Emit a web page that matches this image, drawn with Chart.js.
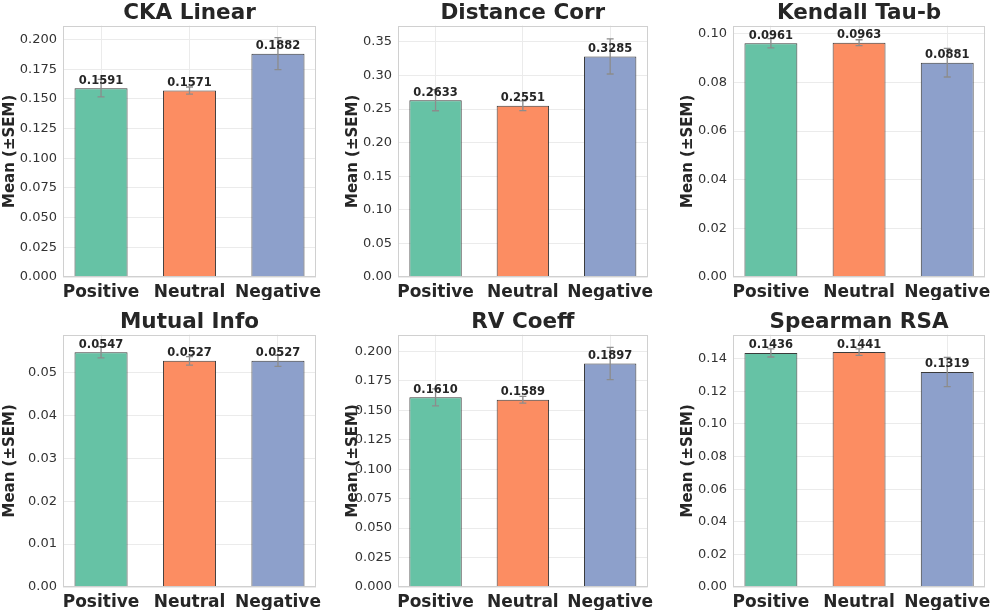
<!DOCTYPE html>
<html><head><meta charset="utf-8">
<script src="https://cdn.jsdelivr.net/npm/chart.js@4.4.1/dist/chart.umd.min.js"></script>
<style>
html,body{margin:0;padding:0;background:#fff;}
#wrap{position:relative;width:997px;height:613px;overflow:hidden;background:#fff}
canvas{position:absolute;display:block}
</style></head><body><div id="wrap"></div>
<script>
// ---------- data ----------
const categories = ['Positive', 'Neutral', 'Negative'];
const titles = ['CKA Linear', 'Distance Corr', 'Kendall Tau-b', 'Mutual Info', 'RV Coeff', 'Spearman RSA'];
const ckaLinearMean = [0.1591, 0.1571, 0.1882];
const ckaLinearSem = [0.0074, 0.0030, 0.0135];
const distanceCorrMean = [0.2633, 0.2551, 0.3285];
const distanceCorrSem = [0.0157, 0.0072, 0.0262];
const kendallTauMean = [0.0961, 0.0963, 0.0881];
const kendallTauSem = [0.0019, 0.0012, 0.0059];
const mutualInfoMean = [0.0547, 0.0527, 0.0527];
const mutualInfoSem = [0.0013, 0.0010, 0.0013];
const rvCoeffMean = [0.1610, 0.1589, 0.1897];
const rvCoeffSem = [0.0072, 0.0029, 0.0137];
const spearmanMean = [0.1436, 0.1441, 0.1319];
const spearmanSem = [0.0025, 0.0020, 0.0090];
const yMax = [0.2118, 0.3743, 0.1033, 0.0588, 0.2142, 0.1548];
const yStep = [0.025, 0.05, 0.02, 0.01, 0.025, 0.02];
const yDecimals = [3, 2, 2, 2, 3, 2];
const barColors = ['#66c2a5', '#fc8d62', '#8da0cb'];

const means = [ckaLinearMean, distanceCorrMean, kendallTauMean, mutualInfoMean, rvCoeffMean, spearmanMean];
const sems = [ckaLinearSem, distanceCorrSem, kendallTauSem, mutualInfoSem, rvCoeffSem, spearmanSem];

// ---------- layout ----------
const cols = [
  {left: 0,   width: 330, yAxisW: 63, padRight: 14, titlePad: 1},
  {left: 330, width: 330, yAxisW: 68, padRight: 8,  titlePad: 14},
  {left: 660, width: 337, yAxisW: 73, padRight: 11, titlePad: 19}
];
const rows = [{top: 0, height: 300}, {top: 309, height: 301}];
const FONT = "'DejaVu Sans', sans-serif";

const frame = {
  id: 'frame',
  afterDatasetsDraw(chart) {
    const {ctx, chartArea: a} = chart;
    ctx.save();
    ctx.strokeStyle = '#d0d0d0';
    ctx.lineWidth = 1;
    ctx.strokeRect(Math.round(a.left) + 0.5, Math.round(a.top) + 0.5, Math.round(a.right - a.left) - 1, Math.round(a.bottom - a.top) - 1);
    ctx.restore();
  }
};

const errAndLabels = {
  id: 'errAndLabels',
  afterDatasetsDraw(chart) {
    const {ctx} = chart;
    const ds = chart.data.datasets[0];
    const meta = chart.getDatasetMeta(0);
    const ys = chart.scales.y;
    ctx.save();
    ctx.strokeStyle = '#8c8c8c';
    ctx.lineWidth = 1.3;
    meta.data.forEach((bar, i) => {
      const v = ds.data[i].y, s = ds.sem[i];
      const yt = ys.getPixelForValue(v + s), yb = ys.getPixelForValue(v - s);
      const x = bar.x;
      ctx.beginPath();
      ctx.moveTo(x, yt); ctx.lineTo(x, yb);
      ctx.moveTo(x - 3.5, yt); ctx.lineTo(x + 3.5, yt);
      ctx.moveTo(x - 3.5, yb); ctx.lineTo(x + 3.5, yb);
      ctx.stroke();
    });
    ctx.fillStyle = '#262626';
    ctx.font = 'bold 11.5px ' + FONT;
    ctx.textAlign = 'center';
    ctx.textBaseline = 'alphabetic';
    meta.data.forEach((bar, i) => {
      ctx.fillText(ds.data[i].y.toFixed(4), bar.x, bar.y - 4.5);
    });
    ctx.restore();
  }
};

const wrap = document.getElementById('wrap');
for (let k = 0; k < 6; k++) {
  const c = cols[k % 3], r = rows[Math.floor(k / 3)];
  const cv = document.createElement('canvas');
  cv.width = c.width; cv.height = r.height;
  cv.style.left = c.left + 'px'; cv.style.top = r.top + 'px';
  cv.style.width = c.width + 'px'; cv.style.height = r.height + 'px';
  wrap.appendChild(cv);
  const dec = yDecimals[k];
  new Chart(cv, {
    type: 'bar',
    data: {
      datasets: [{
        data: categories.map((n, i) => ({x: i, y: means[k][i]})),
        sem: sems[k],
        backgroundColor: barColors,
        borderColor: '#3a3a3a',
        borderWidth: 1,
        barPercentage: 0.6,
        categoryPercentage: 1
      }]
    },
    options: {
      responsive: false,
      animation: false,
      devicePixelRatio: 1,
      layout: {padding: {left: 0, right: c.padRight, top: 0, bottom: 0}},
      plugins: {
        legend: {display: false},
        tooltip: {enabled: false},
        title: {
          display: true, text: titles[k], color: '#262626', fullSize: false,
          font: {family: FONT, size: 21.5, weight: 'bold', lineHeight: 1.1},
          padding: {top: 2, bottom: 0}
        }
      },
      scales: {
        x: {
          type: 'linear', min: -0.43, max: 2.43, offset: false,
          afterBuildTicks: s => { s.ticks = categories.map((n, i) => ({value: i})); },
          afterFit: s => { s.height = 23; },
          grid: {color: '#ebebeb', drawTicks: false, offset: false},
          border: {display: false},
          ticks: {
            padding: 5, color: '#262626', autoSkip: false, maxRotation: 0,
            font: {family: FONT, size: 17, weight: 'bold'},
            callback: v => categories[v]
          }
        },
        y: {
          min: 0, max: yMax[k],
          afterFit: s => { s.width = c.yAxisW; },
          grid: {color: '#ebebeb', drawTicks: false},
          border: {display: false},
          ticks: {
            stepSize: yStep[k], includeBounds: false, padding: 6, color: '#333333',
            font: {family: FONT, size: 13},
            callback: v => Number(v).toFixed(dec)
          },
          title: {
            display: true, text: 'Mean (±SEM)', color: '#262626',
            font: {family: FONT, size: 15, weight: 'bold'},
            padding: {top: c.titlePad, bottom: 0}
          }
        }
      }
    },
    plugins: [frame, errAndLabels]
  });
}
</script></body></html>
